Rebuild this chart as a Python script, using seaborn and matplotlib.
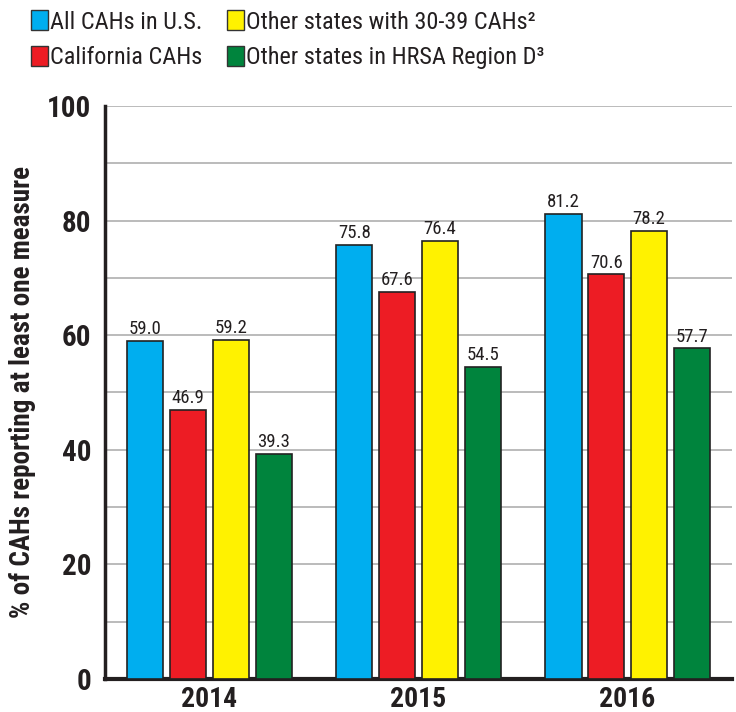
import numpy as np
import pandas as pd
import seaborn as sns
import matplotlib.pyplot as plt
from matplotlib.patches import Patch

# data
years = ["2014", "2015", "2016"]
groups = ["All CAHs in U.S.", "California CAHs",
          "Other states with 30-39 CAHs\u00b2", "Other states in HRSA Region D\u00b3"]
all_us = [59.0, 75.8, 81.2]
california = [46.9, 67.6, 70.6]
other_30_39 = [59.2, 76.4, 78.2]
region_d = [39.3, 54.5, 57.7]
colors = ["#00AEEF", "#ED1C24", "#FFF200", "#00843D"]

df = pd.DataFrame({
    "year": years * 4,
    "group": np.repeat(groups, 3),
    "pct": all_us + california + other_30_39 + region_d,
})

sns.set_theme(style="white")
plt.rcParams["font.family"] = ["Liberation Sans Narrow", "DejaVu Sans Condensed",
                               "Roboto Condensed", "Roboto", "DejaVu Sans"]

fig = plt.figure(figsize=(7.36, 7.12), dpi=100)
ax = fig.add_axes([0.1427, 0.0463, 0.852, 0.805])

sns.barplot(data=df, x="year", y="pct", hue="group", hue_order=groups,
            palette=colors, saturation=1, width=0.82, gap=0.15,
            edgecolor="#222222", linewidth=1.2, legend=False, ax=ax, zorder=3)

for c in ax.containers:
    ax.bar_label(c, fmt="%.1f", padding=2, fontsize=13.5, color="#231f20")

ax.set_xlim(-0.5, 2.5)
ax.set_ylim(0, 100)
ax.set_yticks(range(0, 101, 20))
ax.set_yticks(range(10, 101, 10), minor=True)
ax.grid(axis="y", which="both", color="#b5b5b5", linewidth=1.3, zorder=0)
ax.set_axisbelow(True)
ax.tick_params(axis="y", which="both", length=0, labelsize=21, pad=10,
               labelcolor="#231f20")
for t in ax.get_yticklabels():
    t.set_fontweight("bold")
ax.set_xticks([0.5, 1.5], minor=True)
ax.tick_params(axis="x", which="major", length=0, labelsize=20, pad=5,
               labelcolor="#231f20")
ax.tick_params(axis="x", which="minor", direction="in", length=9, width=2,
               color="#231f20")
for t in ax.get_xticklabels():
    t.set_fontweight("bold")

for s in ["top", "right"]:
    ax.spines[s].set_visible(False)
ax.spines["left"].set_linewidth(2.5)
ax.spines["left"].set_color("#231f20")
ax.spines["bottom"].set_linewidth(3)
ax.spines["bottom"].set_color("#231f20")

ax.set_xlabel("")
ax.set_ylabel("% of CAHs reporting at least one measure", fontsize=19.5,
              fontweight="bold", color="#231f20", labelpad=8)

handles = [Patch(facecolor=c, edgecolor="#333333", linewidth=1) for c in colors]
fig.legend(handles, groups, ncol=2, loc="upper left",
           bbox_to_anchor=(0.022, 1.006), frameon=False, fontsize=17.5,
           labelcolor="#231f20", handlelength=0.7, handleheight=0.9,
           handletextpad=0.1, columnspacing=1.0, labelspacing=0.5,
           borderaxespad=0.2)

fig.savefig("out.png", dpi=100)
